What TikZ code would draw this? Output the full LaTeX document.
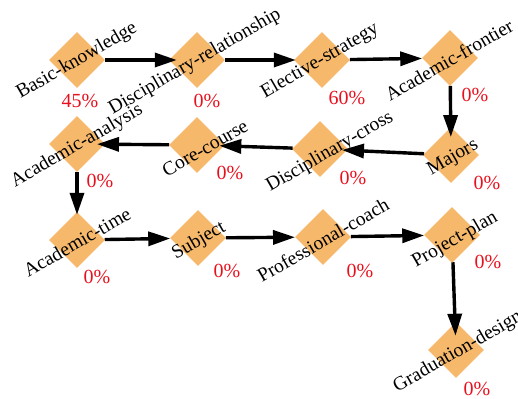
\documentclass[tikz,border=0pt]{standalone}
\usepackage{fontspec}
\setmainfont{Liberation Serif}
\usetikzlibrary{shapes.geometric,arrows.meta}
\definecolor{stepfill}{HTML}{F6B96C}
\definecolor{pctred}{HTML}{E8101C}
\tikzset{
  stepbox/.style={shape=diamond,fill=stepfill,draw=none,inner sep=0pt,
    minimum width=56pt,minimum height=56pt},
  steplabel/.style={rotate=30,inner sep=0pt,text=black,
    font=\fontsize{19.5}{20}\selectfont},
  pct/.style={inner sep=0pt,text=pctred,font=\fontsize{20}{22}\selectfont},
  flow/.style={line width=3.4pt,-{Triangle[length=22pt,width=14pt]}},
}
\begin{document}
\begin{tikzpicture}[x=1pt,y=-1pt]
\useasboundingbox (0,0) rectangle (518,398);

% diamonds
\node[stepbox] (bk) at (77,60) {};
\node[stepbox] (dr) at (197,60) {};
\node[stepbox] (es) at (322,60) {};
\node[stepbox] (af) at (450,58) {};
\node[stepbox] (aa) at (77,144) {};
\node[stepbox] (cc) at (197,145) {};
\node[stepbox] (dc) at (320,149) {};
\node[stepbox] (mj) at (451,155) {};
\node[stepbox] (at) at (77,240) {};
\node[stepbox] (sj) at (198,238) {};
\node[stepbox] (pc) at (323,237) {};
\node[stepbox] (pp) at (452,235) {};
\node[stepbox] (gd) at (456,350) {};

% connectors
\draw[flow,shorten >=-8pt] (bk) -- (dr);
\draw[flow,shorten >=-2pt] (dr) -- (es);
\draw[flow] (es) -- (af);
\draw[flow,shorten >=-10pt] (af) -- (mj);
\draw[flow,shorten >=-5pt] (mj) -- (dc);
\draw[flow,shorten >=-5pt] (dc) -- (cc);
\draw[flow,shorten >=-8pt] (cc) -- (aa);
\draw[flow,shorten >=-3pt] (aa) -- (at);
\draw[flow] (at) -- (sj);
\draw[flow] (sj) -- (pc);
\draw[flow] (pc) -- (pp);
\draw[flow,shorten >=-13pt] (pp) -- (gd);

% step names
\node[steplabel] (bk-t) at (77,61) {Basic-knowledge};
\node[steplabel] (dr-t) at (195,62) {Disciplinary-relationship};
\node[steplabel] (es-t) at (320,61) {Elective-strategy};
\node[steplabel] (af-t) at (449,60) {Academic-frontier};
\node[steplabel] (aa-t) at (77,146) {Academic-analysis};
\node[steplabel] (cc-t) at (205,148) {Core-course};
\node[steplabel] (dc-t) at (330,152) {Disciplinary-cross};
\node[steplabel] (mj-t) at (453,158) {Majors};
\node[steplabel] (at-t) at (77,242) {Academic-time};
\node[steplabel] (sj-t) at (199,241) {Subject};
\node[steplabel] (pc-t) at (323,240) {Professional-coach};
\node[steplabel] (pp-t) at (455,240) {Project-plan};
\node[steplabel] (gd-t) at (458,352) {Graduation-design};

% percentages
\node[pct] (bk-p) at (80,101) {45\%};
\node[pct] (dr-p) at (207,101) {0\%};
\node[pct] (es-p) at (347,98) {60\%};
\node[pct] (af-p) at (475,95) {0\%};
\node[pct] (aa-p) at (100,181) {0\%};
\node[pct] (cc-p) at (230,173) {0\%};
\node[pct] (dc-p) at (353,178) {0\%};
\node[pct] (mj-p) at (487,183) {0\%};
\node[pct] (at-p) at (97,277) {0\%};
\node[pct] (sj-p) at (227,271) {0\%};
\node[pct] (pc-p) at (360,271) {0\%};
\node[pct] (pp-p) at (488,262) {0\%};
\node[pct] (gd-p) at (477,389) {0\%};
\end{tikzpicture}
\end{document}
